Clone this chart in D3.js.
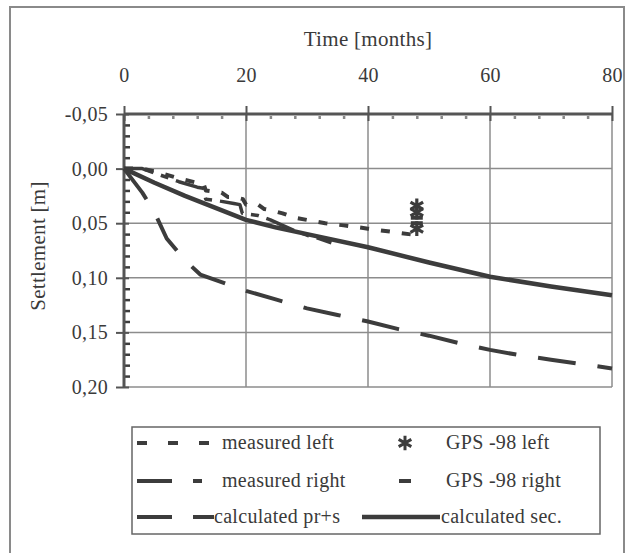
<!DOCTYPE html>
<html><head><meta charset="utf-8">
<script src="https://cdn.jsdelivr.net/npm/d3@7"></script>
<style>
body{margin:0;background:#fff}
svg{display:block}
text{font-family:"Liberation Serif","Times New Roman",serif;fill:#3a3a3a;letter-spacing:0.3px}
</style>
</head><body>
<svg id="chart" width="635" height="553"></svg>
<script>
// ---------- data ----------
const xTicks = [0, 20, 40, 60, 80];
const xTickLabels = ["0", "20", "40", "60", "80"];
const yTicks = [-0.05, 0, 0.05, 0.10, 0.15, 0.20];
const yTickLabels = ["-0,05", "0,00", "0,05", "0,10", "0,15", "0,20"];

const measuredLeftMonths = [0, 3, 6, 9, 12, 13, 13.4, 16, 17, 18, 19.5, 20, 22, 23, 24, 26, 28, 30, 33, 36, 40, 44, 48];
const measuredLeftValues = [0, 0, 0.004, 0.009, 0.013, 0.013, 0.020, 0.022, 0.026, 0.026, 0.028, 0.033, 0.033, 0.037, 0.038, 0.041, 0.045, 0.047, 0.050, 0.052, 0.055, 0.058, 0.061];

const measuredRightMonths = [0, 3, 6, 9, 12, 13, 13.4, 16, 18, 19, 19.4, 22, 24, 26, 28, 30, 32, 34];
const measuredRightValues = [0, 0, 0.006, 0.012, 0.017, 0.018, 0.028, 0.030, 0.032, 0.033, 0.041, 0.043, 0.047, 0.052, 0.057, 0.061, 0.064, 0.068];

const calcPrsMonths = [0, 3, 5, 7, 10, 12.5, 17, 20, 25, 30, 35, 40, 45, 50, 55, 60, 65, 70, 75, 80];
const calcPrsValues = [0, 0.022, 0.040, 0.064, 0.084, 0.097, 0.106, 0.112, 0.120, 0.128, 0.134, 0.140, 0.147, 0.153, 0.160, 0.166, 0.171, 0.175, 0.179, 0.183];

const calcSecMonths = [0, 5, 10, 15, 20, 25, 30, 40, 50, 60, 70, 80];
const calcSecValues = [0, 0.013, 0.025, 0.036, 0.047, 0.054, 0.060, 0.072, 0.086, 0.099, 0.108, 0.116];

const gpsLeftMonths = [48, 48, 48];
const gpsLeftValues = [0.034, 0.040, 0.055];
const gpsRightMonths = [48, 48];
const gpsRightValues = [0.045, 0.050];

const legendLabels = ["measured left", "GPS -98 left", "measured right", "GPS -98 right", "calculated pr+s", "calculated sec."];

// ---------- drawing ----------
const svg = d3.select("#chart");
const ink = "#3c3c3c";
const gridColor = "#8c8c8c";
const fs = 20;

// outer frame
svg.append("rect").attr("x", 10).attr("y", 7).attr("width", 614).attr("height", 560)
  .attr("fill", "none").attr("stroke", "#8a8a8a").attr("stroke-width", 2);

const x = d3.scaleLinear().domain([0, 80]).range([124, 612]);
const y = d3.scaleLinear().domain([-0.05, 0.20]).range([114, 387]);

// gridlines
svg.append("g").selectAll("line").data(xTicks.slice(1)).join("line")
  .attr("x1", d => x(d)).attr("x2", d => x(d)).attr("y1", y(-0.05)).attr("y2", y(0.20))
  .attr("stroke", gridColor).attr("stroke-width", 1.5);
svg.append("g").selectAll("line").data(yTicks.slice(1)).join("line")
  .attr("x1", x(0)).attr("x2", x(80)).attr("y1", d => y(d)).attr("y2", d => y(d))
  .attr("stroke", gridColor).attr("stroke-width", 1.5);

// minor ticks
const xMinor = d3.range(4, 80, 4).filter(d => d % 20 !== 0);
const yMinor = d3.range(-0.04, 0.2, 0.01).filter(d => Math.abs(Math.round(d * 100) % 5) !== 0);
svg.append("g").attr("transform", `translate(0,${y(-0.05)})`)
  .call(d3.axisBottom(x).tickValues(xMinor).tickSize(5).tickFormat(""))
  .call(g => g.select(".domain").remove())
  .call(g => g.selectAll("line").attr("stroke", "#888").attr("stroke-width", 2.5).attr("y1", 2));
svg.append("g").attr("transform", `translate(${x(0)},0)`)
  .call(d3.axisRight(y).tickValues(yMinor).tickSize(6).tickFormat(""))
  .call(g => g.select(".domain").remove())
  .call(g => g.selectAll("line").attr("stroke", ink).attr("stroke-width", 2.5));

// top axis
svg.append("g").attr("transform", `translate(0,${y(-0.05)})`)
  .call(d3.axisTop(x).tickValues(xTicks).tickFormat((d, i) => xTickLabels[i]).tickSize(8).tickPadding(24))
  .call(g => g.select(".domain").attr("stroke", "#555").attr("stroke-width", 3).attr("d", `M${x(0)},0H${x(80)}`))
  .call(g => g.selectAll(".tick line").attr("stroke", "#555").attr("stroke-width", 2).attr("y1", 7).attr("y2", -8))
  .call(g => g.selectAll(".tick text").attr("font-size", fs).attr("font-family", "Liberation Serif").attr("fill", "#3a3a3a"));

// left axis
svg.append("g").attr("transform", `translate(${x(0)},0)`)
  .call(d3.axisLeft(y).tickValues(yTicks).tickFormat((d, i) => yTickLabels[i]).tickSize(8).tickPadding(8))
  .call(g => g.select(".domain").attr("stroke", "#555").attr("stroke-width", 3).attr("d", `M0,${y(-0.05)}V${y(0.2)}`))
  .call(g => g.selectAll(".tick line").attr("stroke", "#555").attr("stroke-width", 2).attr("x1", 5))
  .call(g => g.selectAll(".tick text").attr("font-size", fs).attr("font-family", "Liberation Serif").attr("fill", "#3a3a3a"));

// axis titles
svg.append("text").attr("x", 368).attr("y", 46).attr("text-anchor", "middle")
  .attr("font-size", fs + 1).text("Time [months]");
svg.append("text").attr("transform", "translate(45,246) rotate(-90)").attr("text-anchor", "middle")
  .attr("font-size", fs + 1).text("Settlement [m]");

// series
const line = d3.line().x(d => x(d[0])).y(d => y(d[1]));
const series = [
  {m: calcSecMonths, v: calcSecValues, dash: null, w: 4.5},
  {m: calcPrsMonths, v: calcPrsValues, dash: "38,22", w: 4},
  {m: measuredRightMonths, v: measuredRightValues, dash: "30,8,8,8", w: 3.5},
  {m: measuredLeftMonths, v: measuredLeftValues, dash: "9,12", w: 4}
];
series.forEach(s => {
  svg.append("path").datum(s.m.map((m, i) => [m, s.v[i]]))
    .attr("d", line).attr("fill", "none").attr("stroke", ink)
    .attr("stroke-width", s.w).attr("stroke-dasharray", s.dash)
    .attr("stroke-linejoin", "round");
});

const asterisk = d3.symbol().type(d3.symbolAsterisk || d3.symbolCross).size(150);
svg.append("g").selectAll("path").data(gpsLeftMonths.map((m, i) => [m, gpsLeftValues[i]])).join("path")
  .attr("transform", d => `translate(${x(d[0])},${y(d[1])})`)
  .attr("d", asterisk).attr("fill", "none").attr("stroke", ink).attr("stroke-width", 3.2);
svg.append("g").selectAll("line").data(gpsRightMonths.map((m, i) => [m, gpsRightValues[i]])).join("line")
  .attr("x1", d => x(d[0]) - 6).attr("x2", d => x(d[0]) + 6)
  .attr("y1", d => y(d[1])).attr("y2", d => y(d[1]))
  .attr("stroke", ink).attr("stroke-width", 4);

// legend
const lg = svg.append("g");
lg.append("rect").attr("x", 132).attr("y", 427).attr("width", 468).attr("height", 107)
  .attr("fill", "#fff").attr("stroke", "#666").attr("stroke-width", 1.5);
const rowsY = [443, 481, 517];
lg.append("line").attr("x1", 137).attr("x2", 210).attr("y1", rowsY[0]).attr("y2", rowsY[0])
  .attr("stroke", ink).attr("stroke-width", 4).attr("stroke-dasharray", "10,21");
lg.append("line").attr("x1", 137).attr("x2", 210).attr("y1", rowsY[1]).attr("y2", rowsY[1])
  .attr("stroke", ink).attr("stroke-width", 4).attr("stroke-dasharray", "35,21,9,20");
lg.append("line").attr("x1", 137).attr("x2", 214).attr("y1", rowsY[2]).attr("y2", rowsY[2])
  .attr("stroke", ink).attr("stroke-width", 4).attr("stroke-dasharray", "35,21");
lg.append("path").attr("transform", `translate(405,${rowsY[0]})`).attr("d", asterisk)
  .attr("fill", "none").attr("stroke", ink).attr("stroke-width", 3);
lg.append("line").attr("x1", 399).attr("x2", 411).attr("y1", rowsY[1]).attr("y2", rowsY[1])
  .attr("stroke", ink).attr("stroke-width", 4);
lg.append("line").attr("x1", 362).attr("x2", 440).attr("y1", rowsY[2]).attr("y2", rowsY[2])
  .attr("stroke", ink).attr("stroke-width", 4.5);

const textPos = [[222, rowsY[0]], [446, rowsY[0]], [222, rowsY[1]], [446, rowsY[1]], [214, rowsY[2]], [441, rowsY[2]]];
lg.selectAll("text.lbl").data(legendLabels).join("text").attr("class", "lbl")
  .attr("x", (d, i) => textPos[i][0]).attr("y", (d, i) => textPos[i][1] + 6)
  .attr("font-size", fs).text(d => d);
</script>
</body></html>
